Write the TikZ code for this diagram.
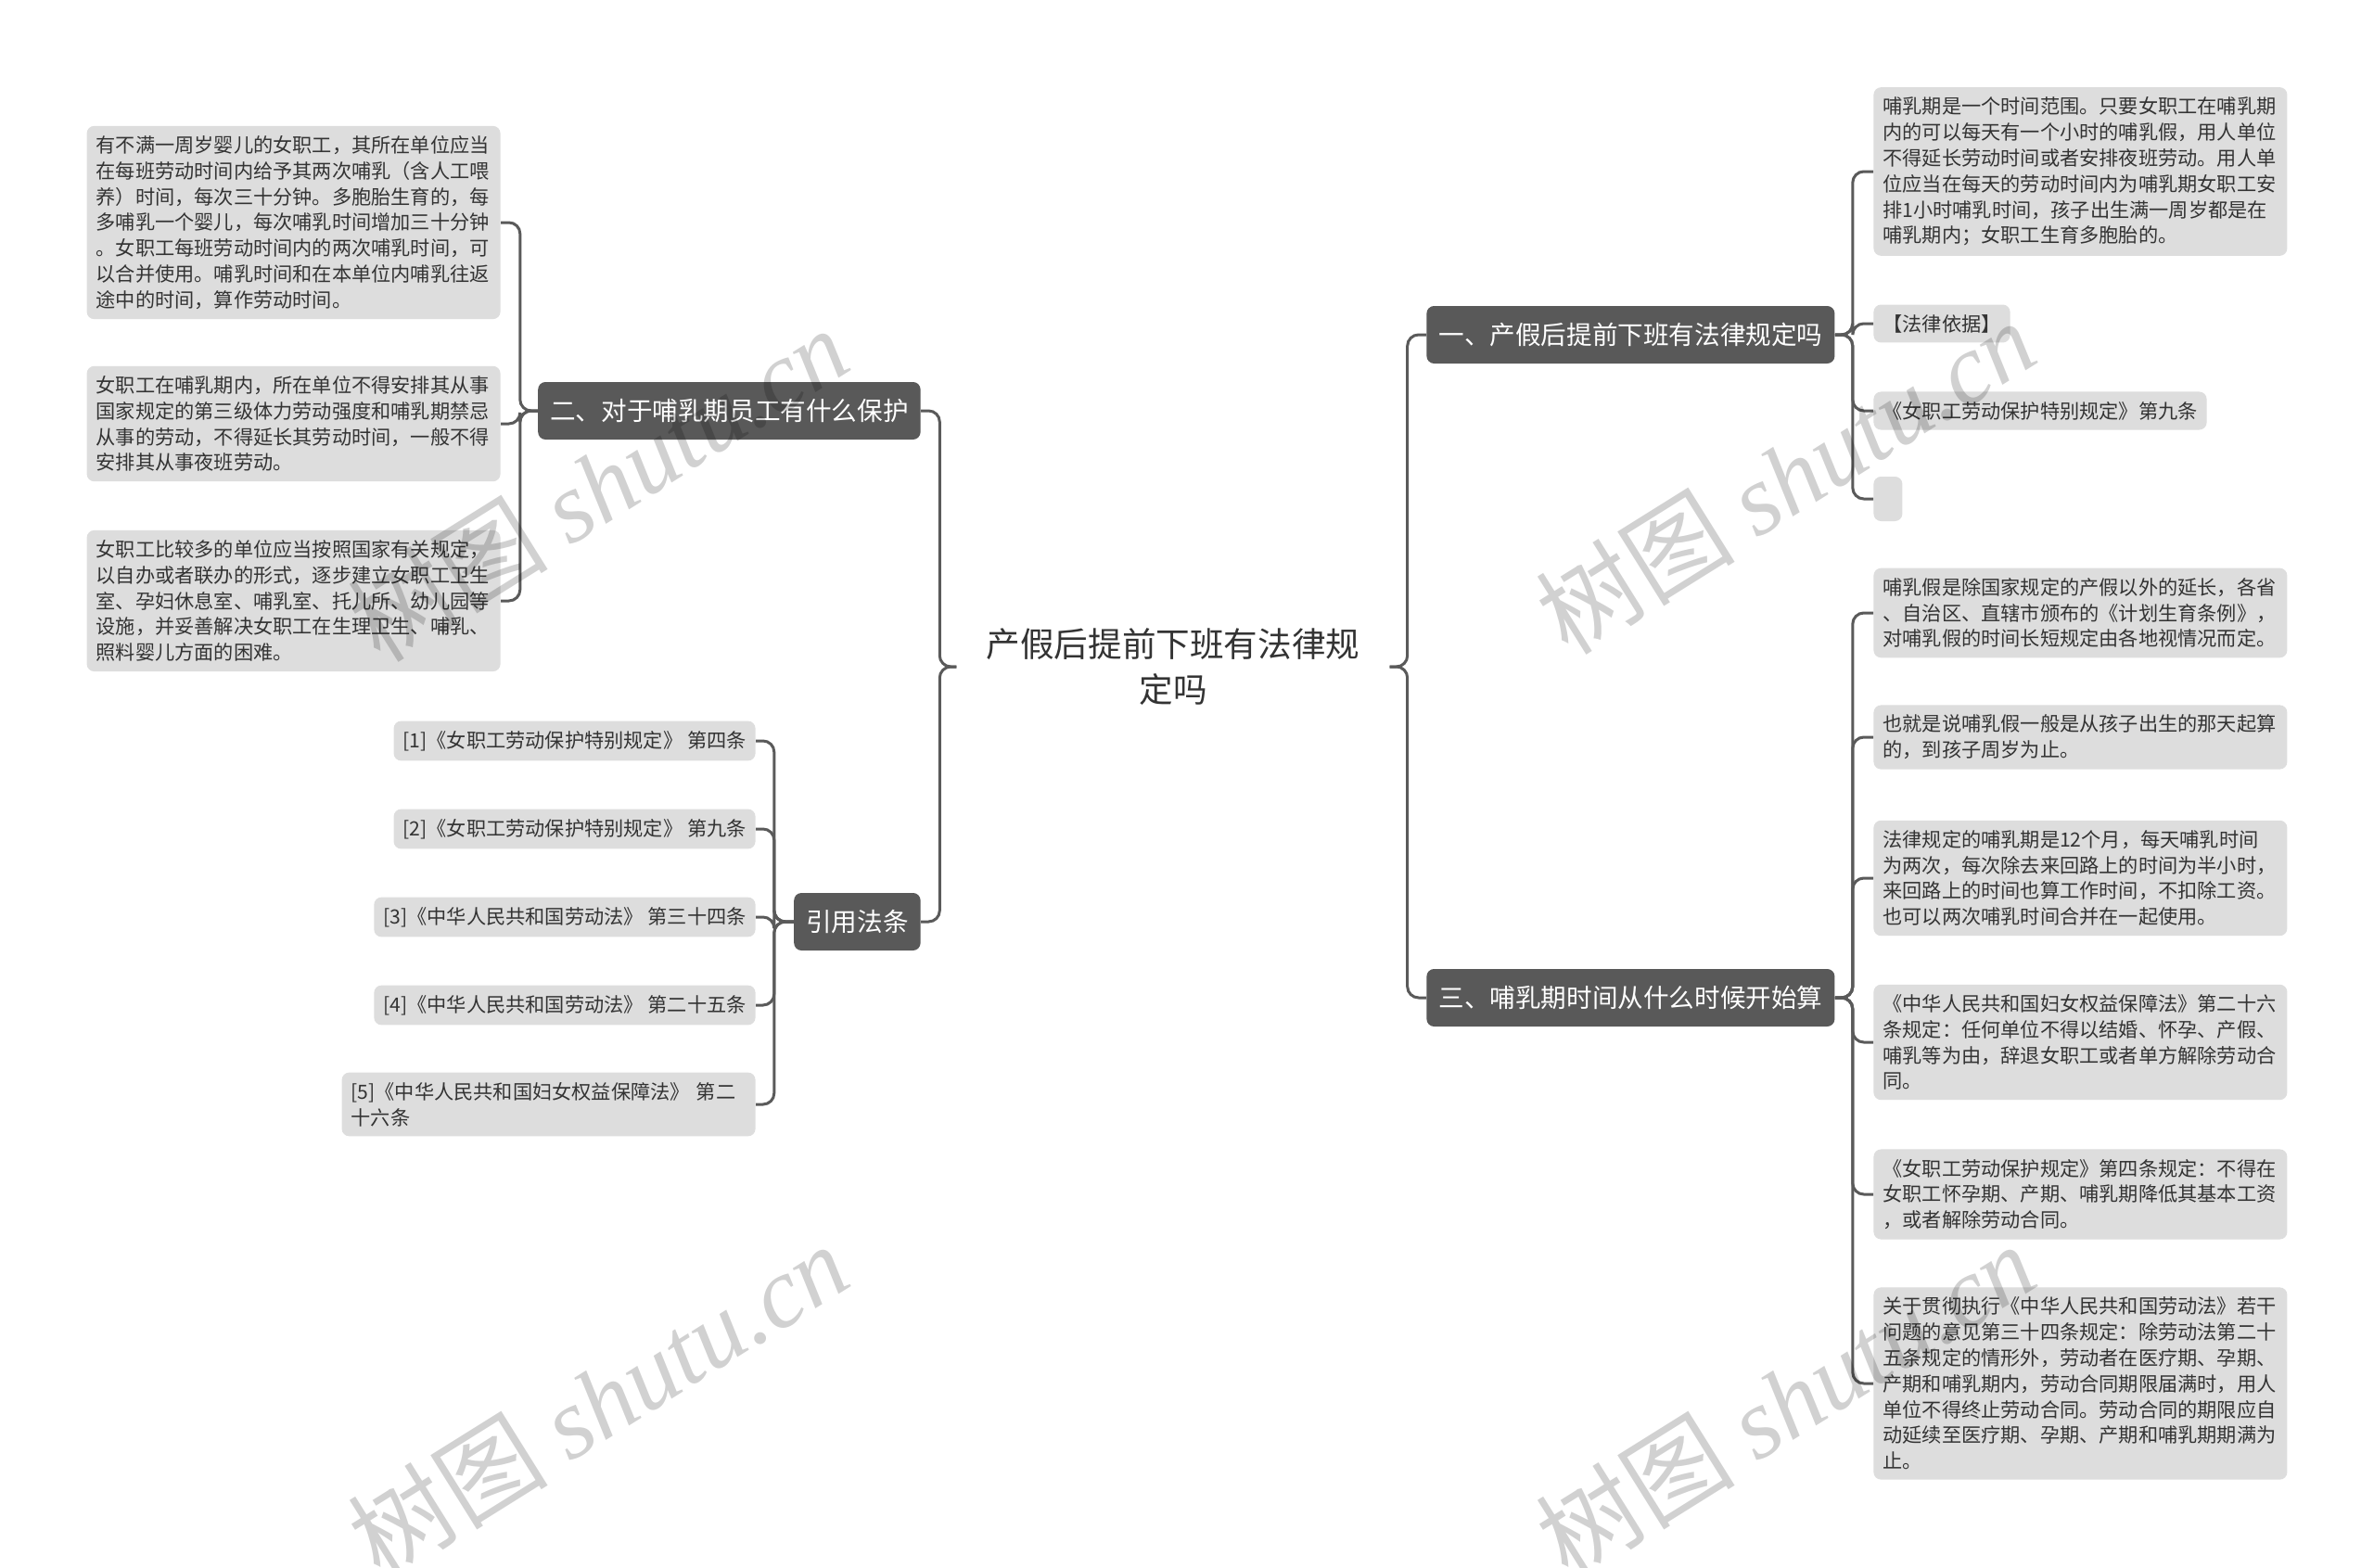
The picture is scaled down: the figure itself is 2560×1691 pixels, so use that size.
\documentclass[tikz,border=0pt]{standalone}
\usepackage{fontspec}
\usepackage{xcolor}
\usetikzlibrary{positioning}
\newfontfamily\cjk{Noto Sans CJK SC}
\newfontfamily\wmfont{Liberation Serif}
\definecolor{topicgray}{HTML}{595959}
\definecolor{leafgray}{HTML}{DDDDDD}
\definecolor{linegray}{HTML}{5A5A5A}
\definecolor{inkgray}{HTML}{333333}

\begin{document}
\begin{tikzpicture}[x=0.5pt,y=-0.5pt,
    topic/.style={fill=topicgray,text=white,rounded corners=4pt,inner xsep=6.5pt,inner ysep=3pt,minimum height=31pt,font=\cjk\fontsize{13.8}{16}\selectfont},
    leaf/.style={fill=leafgray,text=inkgray,rounded corners=4pt,inner xsep=5pt,inner ysep=5.3pt,align=left,font=\cjk\fontsize{10.6}{13.9}\selectfont},
    para/.style={leaf,text width=213pt},
    branch/.style={draw=linegray,line width=1.5pt,rounded corners=6pt},
    wmark/.style={rotate=32,text=black,text opacity=0.18,font=\cjk\fontsize{54}{60}\selectfont}]
    \useasboundingbox (0,0) rectangle (2560,1691);
    \fill[white] (0,0) rectangle (2560,1691);

    \node[font=\cjk\fontsize{18.3}{24.5}\selectfont,align=center,text=inkgray,inner xsep=16pt] (root) at (1265,719) {产假后提前下班有法律规\\定吗};

    \node[topic,anchor=west] (one) at (1538,361) {一、产假后提前下班有法律规定吗};
    \node[topic,anchor=east] (two) at (993,443) {二、对于哺乳期员工有什么保护};
    \node[topic,anchor=east] (cite) at (993,994) {引用法条};
    \node[topic,anchor=west] (three) at (1538,1076) {三、哺乳期时间从什么时候开始算};

    \node[para,anchor=east] (a) at (540,240) {有不满一周岁婴儿的女职工，其所在单位应当\\在每班劳动时间内给予其两次哺乳（含人工喂\\养）时间，每次三十分钟。多胞胎生育的，每\\多哺乳一个婴儿，每次哺乳时间增加三十分钟\\。女职工每班劳动时间内的两次哺乳时间，可\\以合并使用。哺乳时间和在本单位内哺乳往返\\途中的时间，算作劳动时间。};
    \node[para,anchor=east] (b) at (540,457) {女职工在哺乳期内，所在单位不得安排其从事\\国家规定的第三级体力劳动强度和哺乳期禁忌\\从事的劳动，不得延长其劳动时间，一般不得\\安排其从事夜班劳动。};
    \node[para,anchor=east] (c) at (540,648) {女职工比较多的单位应当按照国家有关规定，\\以自办或者联办的形式，逐步建立女职工卫生\\室、孕妇休息室、哺乳室、托儿所、幼儿园等\\设施，并妥善解决女职工在生理卫生、哺乳、\\照料婴儿方面的困难。};

    \node[leaf,anchor=east] (law1) at (815,799) {[1]《女职工劳动保护特别规定》 第四条};
    \node[leaf,anchor=east] (law2) at (815,894) {[2]《女职工劳动保护特别规定》 第九条};
    \node[leaf,anchor=east] (law3) at (815,989) {[3]《中华人民共和国劳动法》 第三十四条};
    \node[leaf,anchor=east] (law4) at (815,1084) {[4]《中华人民共和国劳动法》 第二十五条};
    \node[para,anchor=east] (law5) at (815,1191) {[5]《中华人民共和国妇女权益保障法》 第二\\十六条};

    \node[para,anchor=west] (p1) at (2020,185) {哺乳期是一个时间范围。只要女职工在哺乳期\\内的可以每天有一个小时的哺乳假，用人单位\\不得延长劳动时间或者安排夜班劳动。用人单\\位应当在每天的劳动时间内为哺乳期女职工安\\排1小时哺乳时间，孩子出生满一周岁都是在\\哺乳期内；女职工生育多胞胎的。};
    \node[leaf,anchor=west] (p2) at (2020,349) {【法律依据】};
    \node[leaf,anchor=west] (p3) at (2020,443) {《女职工劳动保护特别规定》第九条};
    \node[leaf,anchor=west,minimum width=15.5pt,minimum height=24pt] (p4) at (2020,538) {};

    \node[para,anchor=west] (q1) at (2020,661) {哺乳假是除国家规定的产假以外的延长，各省\\、自治区、直辖市颁布的《计划生育条例》，\\对哺乳假的时间长短规定由各地视情况而定。};
    \node[para,anchor=west] (q2) at (2020,795) {也就是说哺乳假一般是从孩子出生的那天起算\\的，到孩子周岁为止。};
    \node[para,anchor=west] (q3) at (2020,947) {法律规定的哺乳期是12个月，每天哺乳时间\\为两次，每次除去来回路上的时间为半小时，\\来回路上的时间也算工作时间，不扣除工资。\\也可以两次哺乳时间合并在一起使用。};
    \node[para,anchor=west] (q4) at (2020,1124) {《中华人民共和国妇女权益保障法》第二十六\\条规定：任何单位不得以结婚、怀孕、产假、\\哺乳等为由，辞退女职工或者单方解除劳动合\\同。};
    \node[para,anchor=west] (q5) at (2020,1288) {《女职工劳动保护规定》第四条规定：不得在\\女职工怀孕期、产期、哺乳期降低其基本工资\\，或者解除劳动合同。};
    \node[para,anchor=west] (q6) at (2020,1492) {关于贯彻执行《中华人民共和国劳动法》若干\\问题的意见第三十四条规定：除劳动法第二十\\五条规定的情形外，劳动者在医疗期、孕期、\\产期和哺乳期内，劳动合同期限届满时，用人\\单位不得终止劳动合同。劳动合同的期限应自\\动延续至医疗期、孕期、产期和哺乳期期满为\\止。};

    \foreach \n in {two,cite}
        \draw[branch] (root.west) -- ++(-18,0) |- (\n.east);
    \foreach \n in {one,three}
        \draw[branch] (root.east) -- ++(19,0) |- (\n.west);
    \foreach \n in {a,b,c}
        \draw[branch] (two.west) -- ++(-19,0) |- (\n.east);
    \foreach \n in {law1,law2,law3,law4,law5}
        \draw[branch] (cite.west) -- ++(-21,0) |- (\n.east);
    \foreach \n in {p1,p2,p3,p4}
        \draw[branch] (one.east) -- ++(19,0) |- (\n.west);
    \foreach \n in {q1,q2,q3,q4,q5,q6}
        \draw[branch] (three.east) -- ++(19,0) |- (\n.west);

    \foreach \wx/\wy in {645/522,1925/514,645/1510,1925/1510}
        \node[wmark] at (\wx,\wy) {树图 {\wmfont\itshape shutu.cn}};
\end{tikzpicture}
\end{document}
